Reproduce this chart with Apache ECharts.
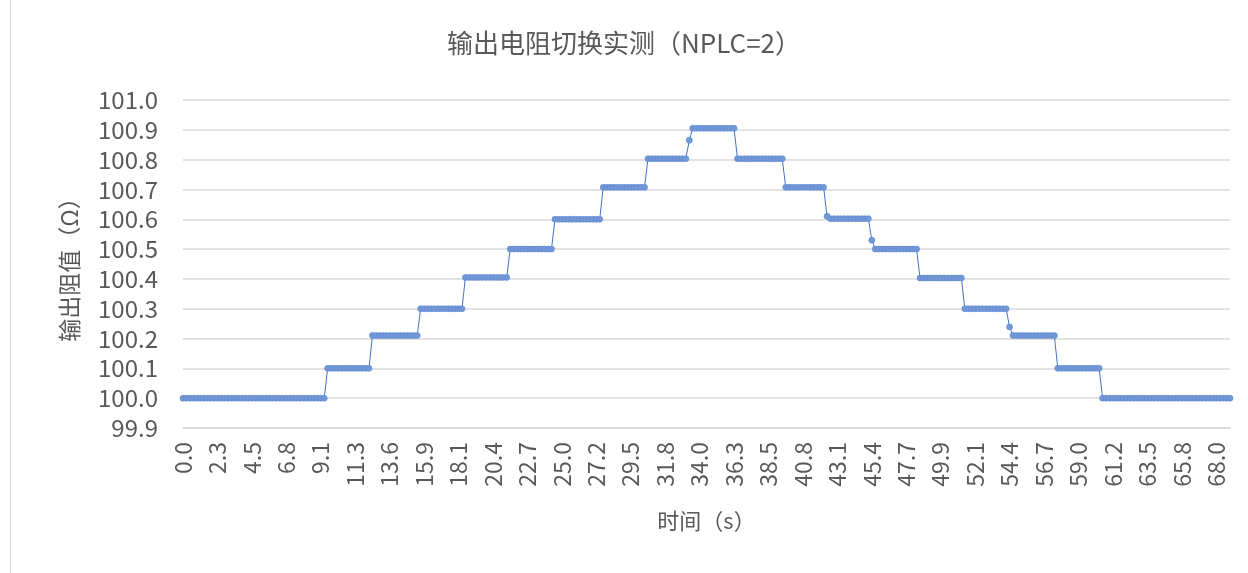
<!DOCTYPE html>
<html>
<head>
<meta charset="utf-8">
<script src="https://cdn.jsdelivr.net/npm/echarts@6/dist/echarts.min.js"></script>
<style>
  html, body { margin: 0; padding: 0; background: #fff; }
  #chart { width: 1248px; height: 573px; }
  .frame { position: absolute; left: 10px; top: 0; width: 1px; height: 573px; background: #d9d9d9; }
</style>
</head>
<body>
<div class="frame"></div>
<div id="chart"></div>
<script>
// 每个台阶的阻值（Ω）和该台阶的采样点数
const levels = [100.0, 100.1, 100.21, 100.3, 100.405, 100.5, 100.6, 100.707, 100.803, 100.865, 100.905,
  100.803, 100.707, 100.61, 100.602, 100.53, 100.5, 100.403, 100.3, 100.239, 100.21, 100.1, 100.0];
const counts = [42, 13, 14, 13, 13, 13, 14, 13, 12, 1, 13,
  14, 12, 1, 12, 1, 13, 13, 13, 1, 13, 13, 38];
// x轴刻度标签（每10个采样点一个）
const tickLabels = ["0.0", "2.3", "4.5", "6.8", "9.1", "11.3", "13.6", "15.9", "18.1", "20.4",
  "22.7", "25.0", "27.2", "29.5", "31.8", "34.0", "36.3", "38.5", "40.8", "43.1",
  "45.4", "47.7", "49.9", "52.1", "54.4", "56.7", "59.0", "61.2", "63.5", "65.8", "68.0"];

// 展开成逐点数据
let values = [];
levels.forEach((v, i) => {
  for (let k = 0; k < counts[i]; k++) values.push(v);
});
let categories = values.map((v, i) => i);

let myChart = echarts.init(document.getElementById("chart"));
let fontCJK = "'Noto Sans CJK SC', 'Noto Sans', sans-serif";
let option = {
  animation: false,
  title: {
    text: "输出电阻切换实测（NPLC=2）",
    left: "center",
    top: 25,
    textStyle: { fontFamily: fontCJK, fontSize: 26, fontWeight: "normal", color: "#595959" },
  },
  grid: { left: 183, right: 18, top: 100, bottom: 145 },
  xAxis: {
    type: "category",
    data: categories,
    boundaryGap: false,
    name: "时间（s）",
    nameLocation: "middle",
    nameGap: 82,
    nameTextStyle: { fontFamily: fontCJK, fontSize: 22, color: "#595959" },
    axisLine: { lineStyle: { color: "#d9d9d9", width: 1.5 } },
    axisTick: { show: false },
    axisLabel: {
      interval: 9,
      rotate: 90,
      margin: 14,
      fontFamily: fontCJK,
      fontSize: 23,
      color: "#595959",
      formatter: (val, idx) => tickLabels[idx / 10],
    },
  },
  yAxis: {
    type: "value",
    min: 99.9,
    max: 101.0,
    interval: 0.1,
    name: "输出阻值（Ω）",
    nameLocation: "middle",
    nameGap: 102,
    nameTextStyle: { fontFamily: fontCJK, fontSize: 23, color: "#595959" },
    axisLine: { show: false },
    axisTick: { show: false },
    splitLine: { lineStyle: { color: "#d9d9d9", width: 1.5 } },
    axisLabel: {
      margin: 25,
      fontFamily: fontCJK,
      fontSize: 24,
      color: "#595959",
      formatter: v => v.toFixed(1),
    },
  },
  series: [
    {
      type: "line",
      data: values,
      symbol: "circle",
      symbolSize: 6,
      showAllSymbol: true,
      lineStyle: { color: "#4472c4", width: 1 },
      itemStyle: { color: "#7398d8", borderColor: "#5b84cc", borderWidth: 0.6 },
    },
  ],
};
myChart.setOption(option);
</script>
</body>
</html>
